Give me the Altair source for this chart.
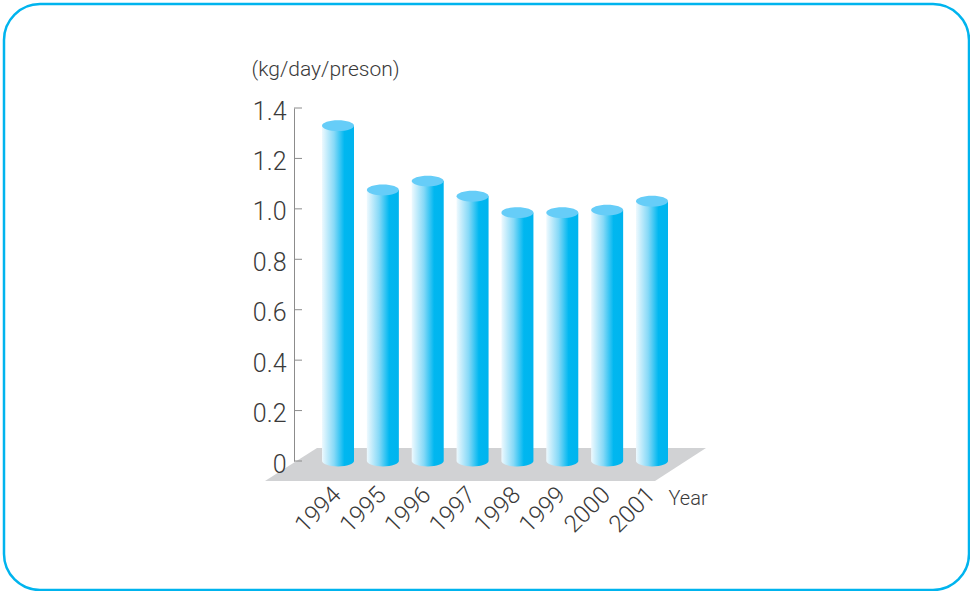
import altair as alt
import pandas as pd

years = ["1994", "1995", "1996", "1997", "1998", "1999", "2000", "2001"]
amounts = [1.33, 1.075, 1.11, 1.05, 0.985, 0.985, 0.995, 1.03]
tick_values = [0, 0.2, 0.4, 0.6, 0.8, 1.0, 1.2, 1.4]

INK = "#3a3a3a"
FONT = "Roboto"
FRAME = "#00b4ee"
CAP = "#66cdf8"
FLOOR = "#d1d2d4"
AXIS_GREY = "#8c8c8c"

# Symbol paths are scaled by sqrt(size) / 2, so size 1024 gives a half width of 16.
CAP_PATH = "M-1,0 A1,0.34 0 0 1 1,0 A1,0.34 0 0 1 -1,0 Z"
BASE_PATH = "M-1,0 A1,0.34 0 0 0 1,0 Z"
FLOOR_PATH = "M-29,20 L361,20 L412,-13 L23,-13 Z"

cylinder_fill = alt.Gradient(
    gradient="linear", x1=0, x2=1, y1=0, y2=0,
    stops=[
        alt.GradientStop(color="#eef9fe", offset=0),
        alt.GradientStop(color="#86d9f7", offset=0.38),
        alt.GradientStop(color="#00b7f0", offset=0.7),
        alt.GradientStop(color="#00b4ee", offset=1),
    ],
)

df = pd.DataFrame({"year": years, "amount": amounts, "zero": [0] * len(years)})
ticks = pd.DataFrame({"value": tick_values})
floor_row = pd.DataFrame({"value": [0]})

x_scale = alt.Scale(type="point", range=[44, 358], padding=0)
y_scale = alt.Scale(domain=[0, 1.4], nice=False, zero=True)

x_axis = alt.Axis(
    title="Year", titleFont=FONT, titleFontWeight=300, titleFontSize=20, titleColor=INK,
    titleX=374, titleY=37, titleAlign="left", titleBaseline="middle", titleAngle=0,
    labelAngle=315, labelAlign="right", labelBaseline="middle", labelPadding=30, labelOffset=-1,
    labelFont=FONT, labelFontWeight=300, labelFontSize=24, labelColor=INK,
    domain=False, ticks=False, grid=False, labelOverlap=False, zindex=1,
)
y_axis = alt.Axis(
    title="(kg/day/preson)", titleFont=FONT, titleFontWeight=300, titleFontSize=21, titleColor=INK,
    titleX=-43, titleY=-39, titleAlign="left", titleBaseline="middle", titleAngle=0,
    values=tick_values,
    labelExpr="datum.value === 0 ? '0' : format(datum.value, '.1f')",
    labelFont=FONT, labelFontWeight=300, labelFontSize=25, labelColor=INK, labelPadding=8, labelOffset=3,
    domainColor=AXIS_GREY, domainWidth=1, ticks=False, tickSize=0, grid=False, zindex=1,
)

# Rounded outer frame around the whole figure
frame = alt.Chart(floor_row).mark_rect(
    fill="white", stroke=FRAME, strokeWidth=2.5, cornerRadius=36
).encode(
    x=alt.value(-290), x2=alt.value(675), y=alt.value(-104), y2=alt.value(482)
)

# Grey platform under the columns
floor = alt.Chart(floor_row).mark_point(
    shape=FLOOR_PATH, size=4, filled=True, fill=FLOOR, opacity=1, strokeWidth=0
).encode(x=alt.value(0), y=alt.Y("value:Q", scale=y_scale))

# Inward tick marks on the value axis
tick_marks = alt.Chart(ticks).mark_rule(color=AXIS_GREY, strokeWidth=1).encode(
    x=alt.value(0), x2=alt.value(8), y=alt.Y("value:Q", scale=y_scale)
)

bars = alt.Chart(df).mark_bar(size=32, color=cylinder_fill).encode(
    x=alt.X("year:O", scale=x_scale, axis=x_axis, sort=None),
    y=alt.Y("amount:Q", scale=y_scale, axis=y_axis),
)

bases = alt.Chart(df).mark_point(
    shape=BASE_PATH, size=1024, filled=True, fill=cylinder_fill, opacity=1, strokeWidth=0
).encode(
    x=alt.X("year:O", scale=x_scale, sort=None),
    y=alt.Y("zero:Q", scale=y_scale),
)

caps = alt.Chart(df).mark_point(
    shape=CAP_PATH, size=1024, filled=True, fill=CAP, opacity=1, strokeWidth=0
).encode(
    x=alt.X("year:O", scale=x_scale, sort=None),
    y=alt.Y("amount:Q", scale=y_scale),
)

chart = alt.layer(frame, floor, bars, bases, caps, tick_marks).properties(
    width=376,
    height=353,
    padding={"left": 294, "top": 108, "right": 300, "bottom": 130},
    autosize=alt.AutoSizeParams(type="none"),
    background="white",
).configure_view(stroke=None)

chart.save("out.html", embed_options={"renderer": "svg", "actions": False})
